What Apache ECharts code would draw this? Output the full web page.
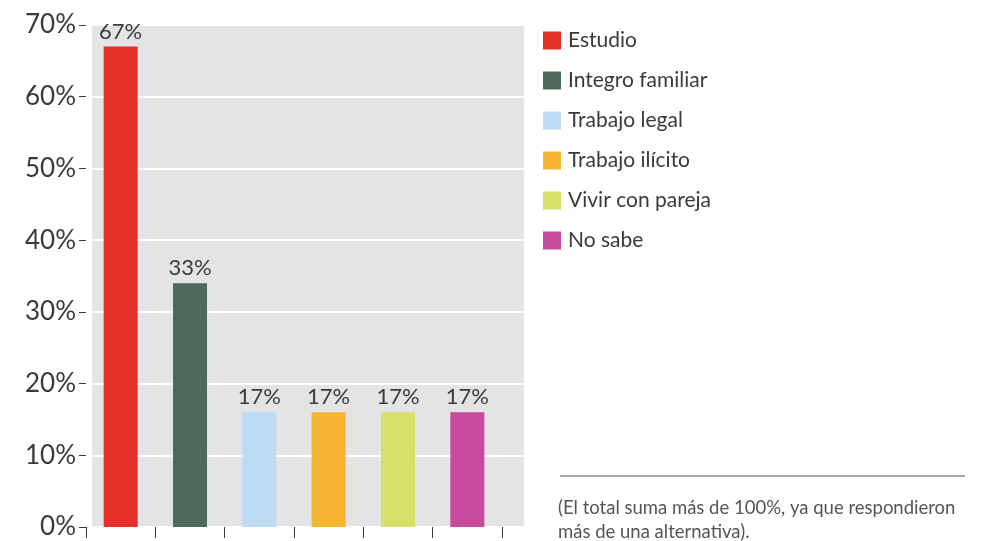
<!DOCTYPE html>
<html>
<head>
<meta charset="utf-8">
<script src="https://cdn.jsdelivr.net/npm/echarts@6/dist/echarts.min.js"></script>
<style>
  html, body { margin: 0; padding: 0; background: #ffffff; }
  #chart { width: 992px; height: 541px; }
</style>
</head>
<body>
<div id="chart"></div>
<script>
  // data
  const categories = ['Estudio', 'Integro familiar', 'Trabajo legal', 'Trabajo ilícito', 'Vivir con pareja', 'No sabe']
  const barHeights = [67, 34, 16, 16, 16, 16]
  const barLabels = ['67%', '33%', '17%', '17%', '17%', '17%']
  const yTicks = [0, 10, 20, 30, 40, 50, 60, 70]
  const colors = ['#e3312a', '#4e6a5d', '#bddcf5', '#f4b632', '#d8e06c', '#c84a9c']

  const font = 'Lato, "Open Sans", sans-serif'
  const textColor = '#3a3a3a'

  const chart = echarts.init(document.getElementById('chart'))

  // one series per category so each gets its own legend entry
  const series = categories.map(function (name, i) {
    return {
      name: name,
      type: 'bar',
      xAxisIndex: 1,
      yAxisIndex: 1,
      stack: 'all',
      barWidth: 34,
      itemStyle: { color: colors[i] },
      label: {
        show: true,
        position: 'top',
        distance: 4,
        fontFamily: font,
        fontSize: 22,
        color: textColor,
        formatter: function () { return barLabels[i] }
      },
      data: categories.map(function (c, j) { return j === i ? barHeights[i] : null })
    }
  })

  chart.setOption({
    animation: false,
    backgroundColor: '#ffffff',
    legend: {
      orient: 'vertical',
      left: 538,
      top: 25,
      itemWidth: 18,
      itemHeight: 18,
      itemGap: 19,
      icon: 'rect',
      textStyle: { fontFamily: font, fontSize: 21, color: textColor, padding: [0, 0, 0, 2] },
      data: categories
    },
    grid: [
      // grey plot background with white lines
      { left: 92, right: 468, top: 25, bottom: 14, show: true, backgroundColor: '#e4e4e6', borderWidth: 0 },
      // bars
      { left: 86, width: 416, top: 25, bottom: 14 }
    ],
    xAxis: [
      { gridIndex: 0, type: 'value', show: false, min: 0, max: 1 },
      {
        gridIndex: 1,
        type: 'category',
        data: categories,
        axisLine: { show: false },
        axisLabel: { show: false },
        axisTick: { show: true, interval: 0, length: 11, inside: false, lineStyle: { color: textColor, width: 1 } }
      }
    ],
    yAxis: [
      {
        gridIndex: 0,
        type: 'value',
        min: 0,
        max: 70,
        interval: 10,
        axisLine: { show: false },
        axisTick: { show: false },
        axisLabel: { show: false },
        splitLine: { show: true, lineStyle: { color: '#ffffff', width: 2 } }
      },
      {
        gridIndex: 1,
        type: 'value',
        min: yTicks[0],
        max: yTicks[yTicks.length - 1],
        interval: 10,
        axisLine: { show: false },
        axisTick: { show: true, length: 7, lineStyle: { color: textColor, width: 1 } },
        splitLine: { show: false },
        axisLabel: {
          fontFamily: font,
          fontSize: 26,
          color: textColor,
          margin: 10,
          formatter: '{value}%'
        }
      }
    ],
    graphic: [
      { type: 'line', shape: { x1: 560, y1: 476, x2: 965, y2: 476 }, style: { stroke: '#555555', lineWidth: 1 } },
      {
        type: 'text',
        left: 558,
        top: 496,
        style: {
          text: '(El total suma más de 100%, ya que respondieron\nmás de una alternativa).',
          font: '18.5px ' + font,
          fill: '#555555',
          lineHeight: 24
        }
      }
    ],
    series: series
  })
</script>
</body>
</html>
